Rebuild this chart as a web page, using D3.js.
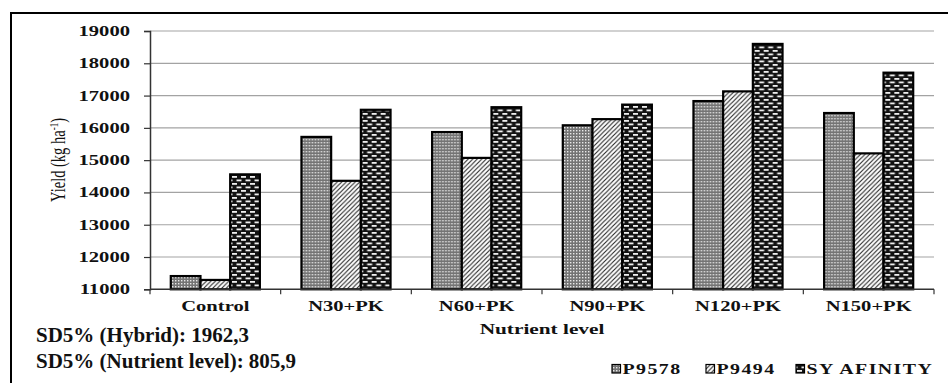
<!DOCTYPE html>
<html>
<head>
<meta charset="utf-8">
<script src="https://cdn.jsdelivr.net/npm/d3@7/dist/d3.min.js"></script>
<style>
  html, body { margin: 0; padding: 0; background: #fff; }
  svg { display: block; }
  text { font-family: "Liberation Serif", "Times New Roman", serif; fill: #111; }
</style>
</head>
<body>
<svg id="chart" width="948" height="383"></svg>
<script>
// Nutrient levels on the x axis
const categories = ["Control", "N30+PK", "N60+PK", "N90+PK", "N120+PK", "N150+PK"];
// Hybrids
const seriesNames = ["P9578", "P9494", "SY AFINITY"];
// Yield, kg ha-1
const p9578 = [11410, 15720, 15870, 16080, 16830, 16460];
const p9494 = [11290, 14360, 15070, 16270, 17130, 15210];
const syAfinity = [14560, 16560, 16640, 16720, 18600, 17710];
const yTicks = [11000, 12000, 13000, 14000, 15000, 16000, 17000, 18000, 19000];
const notes = ["SD5% (Hybrid): 1962,3", "SD5% (Nutrient level): 805,9"];

const seriesValues = [p9578, p9494, syAfinity];

const svg = d3.select("#chart");
const STRETCH = 1.42;   // wide lettering of the chart text

// hatch fills
const defs = svg.append("defs");
const pA = defs.append("pattern").attr("id", "pat0").attr("patternUnits", "userSpaceOnUse")
  .attr("width", 3).attr("height", 3);
pA.append("rect").attr("width", 3).attr("height", 3).attr("fill", "#747474");
pA.append("rect").attr("x", 1).attr("y", 1).attr("width", 1.4).attr("height", 1.4).attr("fill", "#e8e8e8");

const pB = defs.append("pattern").attr("id", "pat1").attr("patternUnits", "userSpaceOnUse")
  .attr("width", 4.5).attr("height", 4.5);
pB.append("rect").attr("width", 4.5).attr("height", 4.5).attr("fill", "#fff");
pB.append("path").attr("d", "M-1,5.5 L5.5,-1 M-1,1 L1,-1 M3.5,5.5 L5.5,3.5")
  .attr("stroke", "#222").attr("stroke-width", 1.1);

const pC = defs.append("pattern").attr("id", "pat2").attr("patternUnits", "userSpaceOnUse")
  .attr("width", 9).attr("height", 7);
pC.append("rect").attr("width", 9).attr("height", 7).attr("fill", "#121212");
pC.append("rect").attr("x", 1).attr("y", 1).attr("width", 5).attr("height", 1.8).attr("fill", "#eeeeee");
pC.append("rect").attr("x", 5.5).attr("y", 4.5).attr("width", 3.5).attr("height", 1.8).attr("fill", "#eeeeee");
pC.append("rect").attr("x", 0).attr("y", 4.5).attr("width", 1.5).attr("height", 1.8).attr("fill", "#eeeeee");

// frame
svg.append("rect").attr("x", 11).attr("y", 13).attr("width", 1100).attr("height", 1000)
  .attr("fill", "none").attr("stroke", "#000").attr("stroke-width", 2);

const plot = { left: 150, right: 934, top: 31, bottom: 289.3 };

const x0 = d3.scaleBand().domain(categories).range([plot.left, plot.right]).padding(0);
const x1 = d3.scaleBand().domain(seriesNames).range([0, x0.bandwidth()])
  .paddingInner(0).paddingOuter(0.7);
const y = d3.scaleLinear().domain([11000, 19000]).range([plot.bottom, plot.top]);

// gridlines
svg.append("g").selectAll("line").data(yTicks.slice(1)).join("line")
  .attr("x1", plot.left).attr("x2", plot.right)
  .attr("y1", d => y(d)).attr("y2", d => y(d))
  .attr("stroke", "#a3a3a3").attr("stroke-width", 1.2);

// y axis
const yAxis = svg.append("g").attr("transform", `translate(${plot.left},0)`)
  .call(d3.axisLeft(y).tickValues(yTicks).tickSize(6).tickFormat(""));
yAxis.select(".domain").attr("stroke", "#333").attr("stroke-width", 1.5);
yAxis.selectAll(".tick line").attr("stroke", "#333").attr("stroke-width", 1.2);

svg.append("g").selectAll("g").data(yTicks).join("g")
  .attr("transform", d => `translate(130,${y(d) + 5}) scale(${STRETCH},1)`)
  .append("text").attr("text-anchor", "end")
  .attr("font-size", 14.5).attr("font-weight", "bold")
  .text(d => d);

// bars
const groups = svg.append("g").selectAll("g").data(categories).join("g")
  .attr("transform", d => `translate(${x0(d)},0)`);
groups.selectAll("rect").data((c, i) => seriesNames.map((s, k) => ({ s, k, v: seriesValues[k][i] })))
  .join("rect")
  .attr("x", d => x1(d.s))
  .attr("width", x1.bandwidth())
  .attr("y", d => y(d.v))
  .attr("height", d => y(11000) - y(d.v))
  .attr("fill", d => `url(#pat${d.k})`)
  .attr("stroke", "#000").attr("stroke-width", 2.2);

// x axis
const xAxis = svg.append("g").attr("transform", `translate(0,${plot.bottom})`);
xAxis.append("line").attr("x1", plot.left).attr("x2", plot.right)
  .attr("stroke", "#333").attr("stroke-width", 1.5);
const bounds = categories.map(c => x0(c)).concat([plot.right]);
xAxis.selectAll("line.tk").data(bounds).join("line").attr("class", "tk")
  .attr("x1", d => d).attr("x2", d => d).attr("y1", 0).attr("y2", 5)
  .attr("stroke", "#333").attr("stroke-width", 1.2);

svg.append("g").selectAll("g").data(categories).join("g")
  .attr("transform", d => `translate(${x0(d) + x0.bandwidth() / 2},311) scale(${STRETCH},1)`)
  .append("text").attr("text-anchor", "middle")
  .attr("font-size", 14.5).attr("font-weight", "bold")
  .text(d => d);

// axis titles
svg.append("g").attr("transform", `translate(${(plot.left + plot.right) / 2},334) scale(${STRETCH},1)`)
  .append("text").attr("text-anchor", "middle")
  .attr("font-size", 15).attr("font-weight", "bold").text("Nutrient level");

const yt = svg.append("g").attr("transform", `translate(65,160) scale(${STRETCH},1) rotate(-90)`)
  .append("text").attr("text-anchor", "middle").attr("font-size", 14.5);
yt.append("tspan").text("Yield (kg ha");
yt.append("tspan").attr("dy", -5).attr("font-size", 9).text("-1");
yt.append("tspan").attr("dy", 5).text(")");

// SD notes
svg.append("g").selectAll("text").data(notes).join("text")
  .attr("x", 36).attr("y", (d, i) => 341.5 + i * 26)
  .attr("font-size", 21).attr("font-weight", "bold")
  .text(d => d);

// legend
const legendX = [612, 706, 796];
const leg = svg.append("g").selectAll("g").data(seriesNames).join("g")
  .attr("transform", (d, i) => `translate(${legendX[i]},369)`);
leg.append("rect").attr("x", 0).attr("y", -4.5).attr("width", 8.5).attr("height", 8.5)
  .attr("fill", (d, i) => `url(#pat${i})`).attr("stroke", "#000").attr("stroke-width", 1.2);
leg.append("g").attr("transform", `translate(10.5,5) scale(${STRETCH},1)`)
  .append("text").attr("font-size", 14).attr("font-weight", "bold")
  .attr("letter-spacing", 1)
  .text(d => d);
</script>
</body>
</html>
